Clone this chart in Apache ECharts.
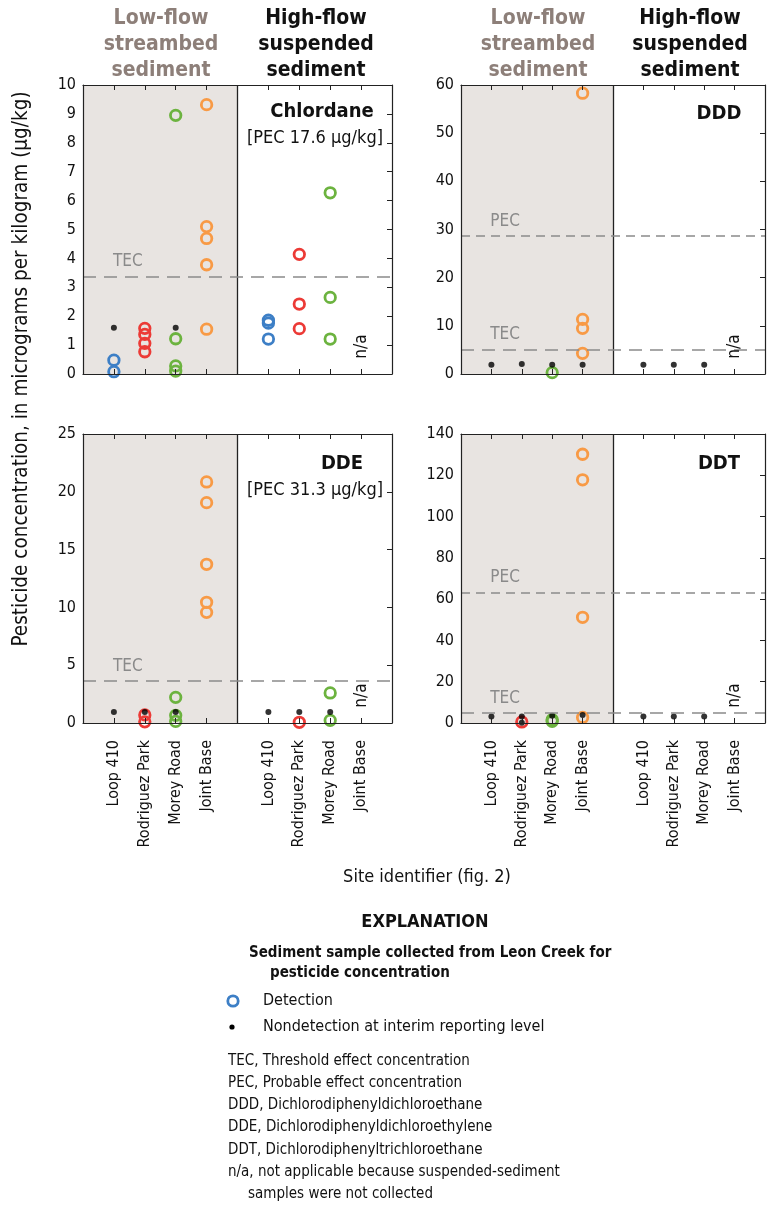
<!DOCTYPE html>
<html><head><meta charset="utf-8">
<script src="https://cdn.jsdelivr.net/npm/echarts@6/dist/echarts.min.js"></script>
<style>html,body{margin:0;padding:0;background:#fff}#c{width:769px;height:1206px}</style>
</head><body><div id="c"></div>
<script>
// ---------------- data ----------------
const sites = ['Loop 410', 'Rodriguez Park', 'Morey Road', 'Joint Base'];
const siteColors = ['#3d7fc6', '#ec3a36', '#6cb33f', '#f89a45'];
const panelNames = ['Chlordane', 'DDD', 'DDE', 'DDT'];
const panelPecNotes = ['[PEC 17.6 µg/kg]', '', '[PEC 31.3 µg/kg]', ''];
const yMax = [10, 60, 25, 140];
const yInterval = [1, 10, 5, 20];
const tecValues = [3.38, 5.1, 3.65, 4.9];
const pecValues = [null, 28.6, null, 63.2];
const naFraction = 0.095; // n/a label height as share of axis

// detections per site (low-flow streambed / high-flow suspended)
const chlordaneLowDet  = [[0.48, 0.08], [1.58, 1.37, 1.06, 0.77], [8.95, 1.22, 0.28, 0.1], [9.32, 5.1, 4.69, 3.78, 1.55]];
const chlordaneHighDet = [[1.86, 1.76, 1.21], [4.14, 2.42, 1.57], [6.27, 2.65, 1.21], []];
const chlordaneLowNon  = [[1.6], [], [1.6], []];
const chlordaneHighNon = [[], [], [], []];

const dddLowDet  = [[], [], [0.28], [58.3, 11.35, 9.48, 4.29]];
const dddHighDet = [[], [], [], []];
const dddLowNon  = [[1.9], [2.1], [1.9], [1.9]];
const dddHighNon = [[1.9], [1.9], [1.9], []];

const ddeLowDet  = [[], [0.7, 0.1], [2.22, 0.66, 0.14], [20.85, 19.06, 13.73, 10.44, 9.57]];
const ddeHighDet = [[], [0.06], [2.6, 0.23], []];
const ddeLowNon  = [[0.95], [0.95], [0.95], []];
const ddeHighNon = [[0.95], [0.95], [0.95], []];

const ddtLowDet  = [[], [0.5], [1.6, 0.8], [130.2, 117.8, 51.2, 2.7]];
const ddtHighDet = [[], [], [], []];
const ddtLowNon  = [[3.2], [3.2, 0.1], [3.5], [3.9]];
const ddtHighNon = [[3.2], [3.2], [3.2], []];

const panelLowDet  = [chlordaneLowDet, dddLowDet, ddeLowDet, ddtLowDet];
const panelHighDet = [chlordaneHighDet, dddHighDet, ddeHighDet, ddtHighDet];
const panelLowNon  = [chlordaneLowNon, dddLowNon, ddeLowNon, ddtLowNon];
const panelHighNon = [chlordaneHighNon, dddHighNon, ddeHighNon, ddtHighNon];

// ---------------- layout & style ----------------
const FF = "'Liberation Sans Narrow','DejaVu Sans Condensed','Roboto Condensed',sans-serif";
const grids = [
  {left: 83, top: 85, width: 309, height: 289},
  {left: 461, top: 85, width: 304, height: 289},
  {left: 83, top: 434, width: 309, height: 289},
  {left: 461, top: 434, width: 304, height: 289}
];
const bgGray = '#e8e4e1';
const headGray = '#8d7f79';
const refGray = '#8a8a8a';
const posLabels = {};
sites.forEach((s, i) => { posLabels[i + 1] = s; posLabels[i + 6] = s; });

const option = {
  backgroundColor: '#fff',
  animation: false,
  grid: grids.map(g => Object.assign({show: false, containLabel: false}, g)),
  xAxis: [], yAxis: [], series: [], graphic: []
};
const axLine = {show: true, onZero: false, lineStyle: {color: '#222', width: 1.2}};
const axTick = {show: true, inside: true, length: 5, lineStyle: {color: '#222'}};

grids.forEach((g, p) => {
  const showX = p >= 2;
  option.xAxis.push({
    gridIndex: p, type: 'value', min: 0, max: 10, interval: 1, position: 'bottom', z: 10,
    axisLine: axLine, axisTick: axTick, splitLine: {show: false},
    axisLabel: {
      show: showX, rotate: 90, margin: 17, fontFamily: FF, fontSize: 16, color: '#111',
      formatter: v => posLabels[v] || ''
    }
  });
  option.xAxis.push({
    gridIndex: p, type: 'value', min: 0, max: 10, interval: 1, position: 'top', z: 10,
    axisLine: axLine, axisTick: axTick, splitLine: {show: false}, axisLabel: {show: false}
  });
  option.yAxis.push({
    gridIndex: p, type: 'value', min: 0, max: yMax[p], interval: yInterval[p], position: 'left', z: 10,
    axisLine: axLine, axisTick: {show: false}, splitLine: {show: false},
    axisLabel: {fontFamily: FF, fontSize: 16, color: '#111', margin: 7}
  });
  option.yAxis.push({
    gridIndex: p, type: 'value', min: 0, max: yMax[p], interval: yInterval[p], position: 'right', z: 10,
    axisLine: axLine, axisTick: axTick, splitLine: {show: false}, axisLabel: {show: false}
  });
  const xi = p * 2, yi = p * 2;

  // reference lines
  const mlData = [
    {xAxis: 5, lineStyle: {type: 'solid', color: '#222', width: 1.3}, label: {show: false}}
  ];
  const refs = [['TEC', tecValues[p], [13, 8]]];
  if (pecValues[p] != null) refs.push(['PEC', pecValues[p], [9, 6]]);
  refs.forEach(r => mlData.push({yAxis: r[1], lineStyle: {type: r[2], color: '#8a8a8a', width: 1.5}, label: {show: false}}));

  const mpData = refs.map(r => ({
    coord: [1.45, r[1]], value: r[0], symbolSize: 0,
    label: {show: true, position: 'top', distance: 6, formatter: r[0], fontFamily: FF, fontSize: 17, color: refGray}
  }));
  mpData.push({
    coord: [9, yMax[p] * naFraction], value: 'n/a', symbolSize: 0,
    label: {show: true, position: 'inside', rotate: 90, formatter: 'n/a', fontFamily: FF, fontSize: 17, color: '#111'}
  });

  option.series.push({
    type: 'scatter', xAxisIndex: xi, yAxisIndex: yi, data: [], silent: true, z: 1,
    markArea: {silent: true, itemStyle: {color: bgGray}, data: [[{coord: [0, 0]}, {coord: [5, yMax[p]]}]]},
    markLine: {silent: true, symbol: 'none', data: mlData, animation: false},
    markPoint: {silent: true, symbol: 'circle', data: mpData}
  });

  // detections
  sites.forEach((s, si) => {
    const pts = [];
    panelLowDet[p][si].forEach(v => pts.push([si + 1, v]));
    panelHighDet[p][si].forEach(v => pts.push([si + 6, v]));
    if (pts.length) option.series.push({
      type: 'scatter', name: s, xAxisIndex: xi, yAxisIndex: yi, clip: false, z: 3,
      symbol: 'circle', symbolSize: 10.5, data: pts,
      itemStyle: {color: 'rgba(0,0,0,0)', borderColor: siteColors[si], borderWidth: 2.8, opacity: 1}
    });
  });
  // nondetections
  const nd = [];
  sites.forEach((s, si) => {
    panelLowNon[p][si].forEach(v => nd.push([si + 1, v]));
    panelHighNon[p][si].forEach(v => nd.push([si + 6, v]));
  });
  option.series.push({
    type: 'scatter', name: 'Nondetection', xAxisIndex: xi, yAxisIndex: yi, clip: false, z: 4,
    symbol: 'circle', symbolSize: 6, data: nd, itemStyle: {color: '#000'}
  });
});

// ---------- text annotations ----------
function txt(x, y, text, font, opts) {
  option.graphic.push({
    type: 'text', x: x, y: y,
    style: Object.assign({text: text, font: font, fill: '#111', align: 'center', verticalAlign: 'middle'}, opts || {})
  });
}
const headCenters = [[161, 316], [538, 690]];
headCenters.forEach(hc => {
  ['Low-flow', 'streambed', 'sediment'].forEach((t, k) => txt(hc[0], 19 + k * 26, t, 'bold 21px ' + FF, {fill: headGray}));
  ['High-flow', 'suspended', 'sediment'].forEach((t, k) => txt(hc[1], 19 + k * 26, t, 'bold 21px ' + FF, {fill: '#111'}));
});
const titlePos = [[322, 112], [719, 114], [342, 464], [719, 464]];
panelNames.forEach((n, p) => {
  txt(titlePos[p][0], titlePos[p][1], n, 'bold 20px ' + FF);
  if (panelPecNotes[p]) txt(315, titlePos[p][1] + 26, panelPecNotes[p], '18px ' + FF);
});
option.graphic.push({
  type: 'text', x: 22, y: 369, rotation: Math.PI / 2,
  style: {text: 'Pesticide concentration, in micrograms per kilogram (µg/kg)', font: '20.5px ' + FF, fill: '#111', align: 'center', verticalAlign: 'middle'}
});
txt(427, 877, 'Site identifier (fig. 2)', '18px ' + FF);

// explanation
txt(425, 922, 'EXPLANATION', 'bold 18px ' + FF);
txt(249, 953, 'Sediment sample collected from Leon Creek for', 'bold 15px ' + FF, {align: 'left'});
txt(270, 973, 'pesticide concentration', 'bold 15px ' + FF, {align: 'left'});
option.graphic.push({type: 'circle', shape: {cx: 233, cy: 1001, r: 5.2}, style: {fill: 'none', stroke: siteColors[0], lineWidth: 2.8}});
txt(263, 1001, 'Detection', '16px ' + FF, {align: 'left'});
option.graphic.push({type: 'circle', shape: {cx: 232, cy: 1027, r: 2.6}, style: {fill: '#000'}});
txt(263, 1027, 'Nondetection at interim reporting level', '16px ' + FF, {align: 'left'});
const notes = [
  'TEC, Threshold effect concentration',
  'PEC, Probable effect concentration',
  'DDD, Dichlorodiphenyldichloroethane',
  'DDE, Dichlorodiphenyldichloroethylene',
  'DDT, Dichlorodiphenyltrichloroethane',
  'n/a, not applicable because suspended-sediment'
];
notes.forEach((t, k) => txt(228, 1061 + k * 22.2, t, '15px ' + FF, {align: 'left'}));
txt(248, 1194, 'samples were not collected', '15px ' + FF, {align: 'left'});

const chart = echarts.init(document.getElementById('c'), null, {renderer: 'canvas'});
chart.setOption(option);
</script></body></html>
